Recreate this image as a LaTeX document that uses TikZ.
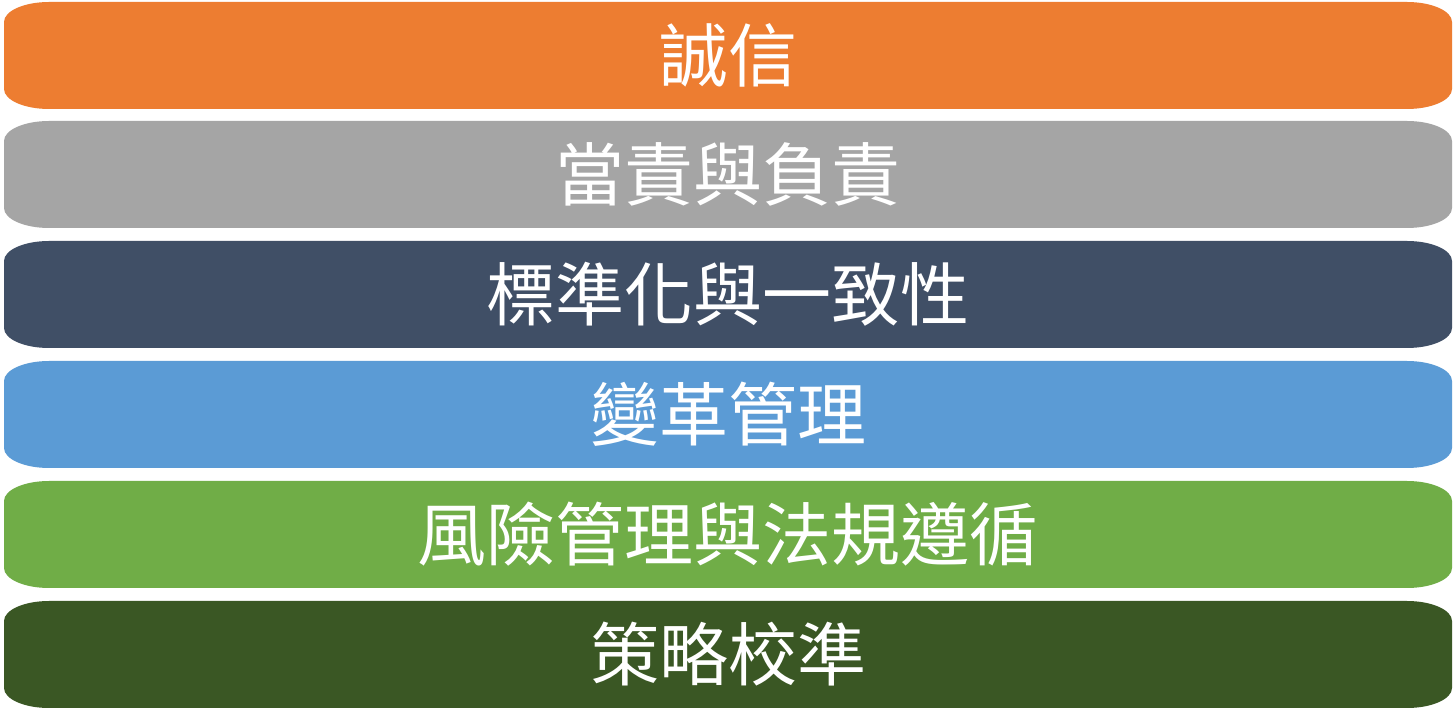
\documentclass[tikz,border=0pt]{standalone}
\usepackage{fontspec}
\newfontfamily\cjk{Noto Sans CJK TC}
\definecolor{cOrange}{HTML}{ED7D31}
\definecolor{cGray}{HTML}{A5A5A5}
\definecolor{cNavy}{HTML}{404F66}
\definecolor{cBlue}{HTML}{5B9BD5}
\definecolor{cGreen}{HTML}{70AD47}
\definecolor{cDark}{HTML}{3A5724}
\tikzset{
  bartext/.style={text=white, font=\cjk\fontsize{69}{80}\selectfont, inner sep=0pt, anchor=center}
}
% #1 name, #2 top (pixel y), #3 colour, #4 text
\newcommand\MyBand[4]{%
  \pgfmathsetmacro\bt{720-#2}%
  \pgfmathsetmacro\bb{720-#2-107}%
  \pgfmathsetmacro\bm{720-#2-53.5}%
  \fill[#3] (49,\bt) -- (1407,\bt)
     arc[start angle=90,end angle=0,x radius=45,y radius=20] -- (1452,\bb+20)
     arc[start angle=0,end angle=-90,x radius=45,y radius=20] -- (49,\bb)
     arc[start angle=270,end angle=180,x radius=45,y radius=20] -- (4,\bt-20)
     arc[start angle=180,end angle=90,x radius=45,y radius=20] -- cycle;
  \node[bartext] (#1) at (728,\bm) {#4};
}
\begin{document}
\begin{tikzpicture}[x=1pt,y=1pt]
\useasboundingbox (0,0) rectangle (1456,720);
\fill[white] (0,0) rectangle (1456,720);
\MyBand{b1}{2}{cOrange}{誠信}
\MyBand{b2}{121}{cGray}{當責與負責}
\MyBand{b3}{241}{cNavy}{標準化與一致性}
\MyBand{b4}{361}{cBlue}{變革管理}
\MyBand{b5}{481}{cGreen}{風險管理與法規遵循}
\MyBand{b6}{601}{cDark}{策略校準}
\end{tikzpicture}
\end{document}
